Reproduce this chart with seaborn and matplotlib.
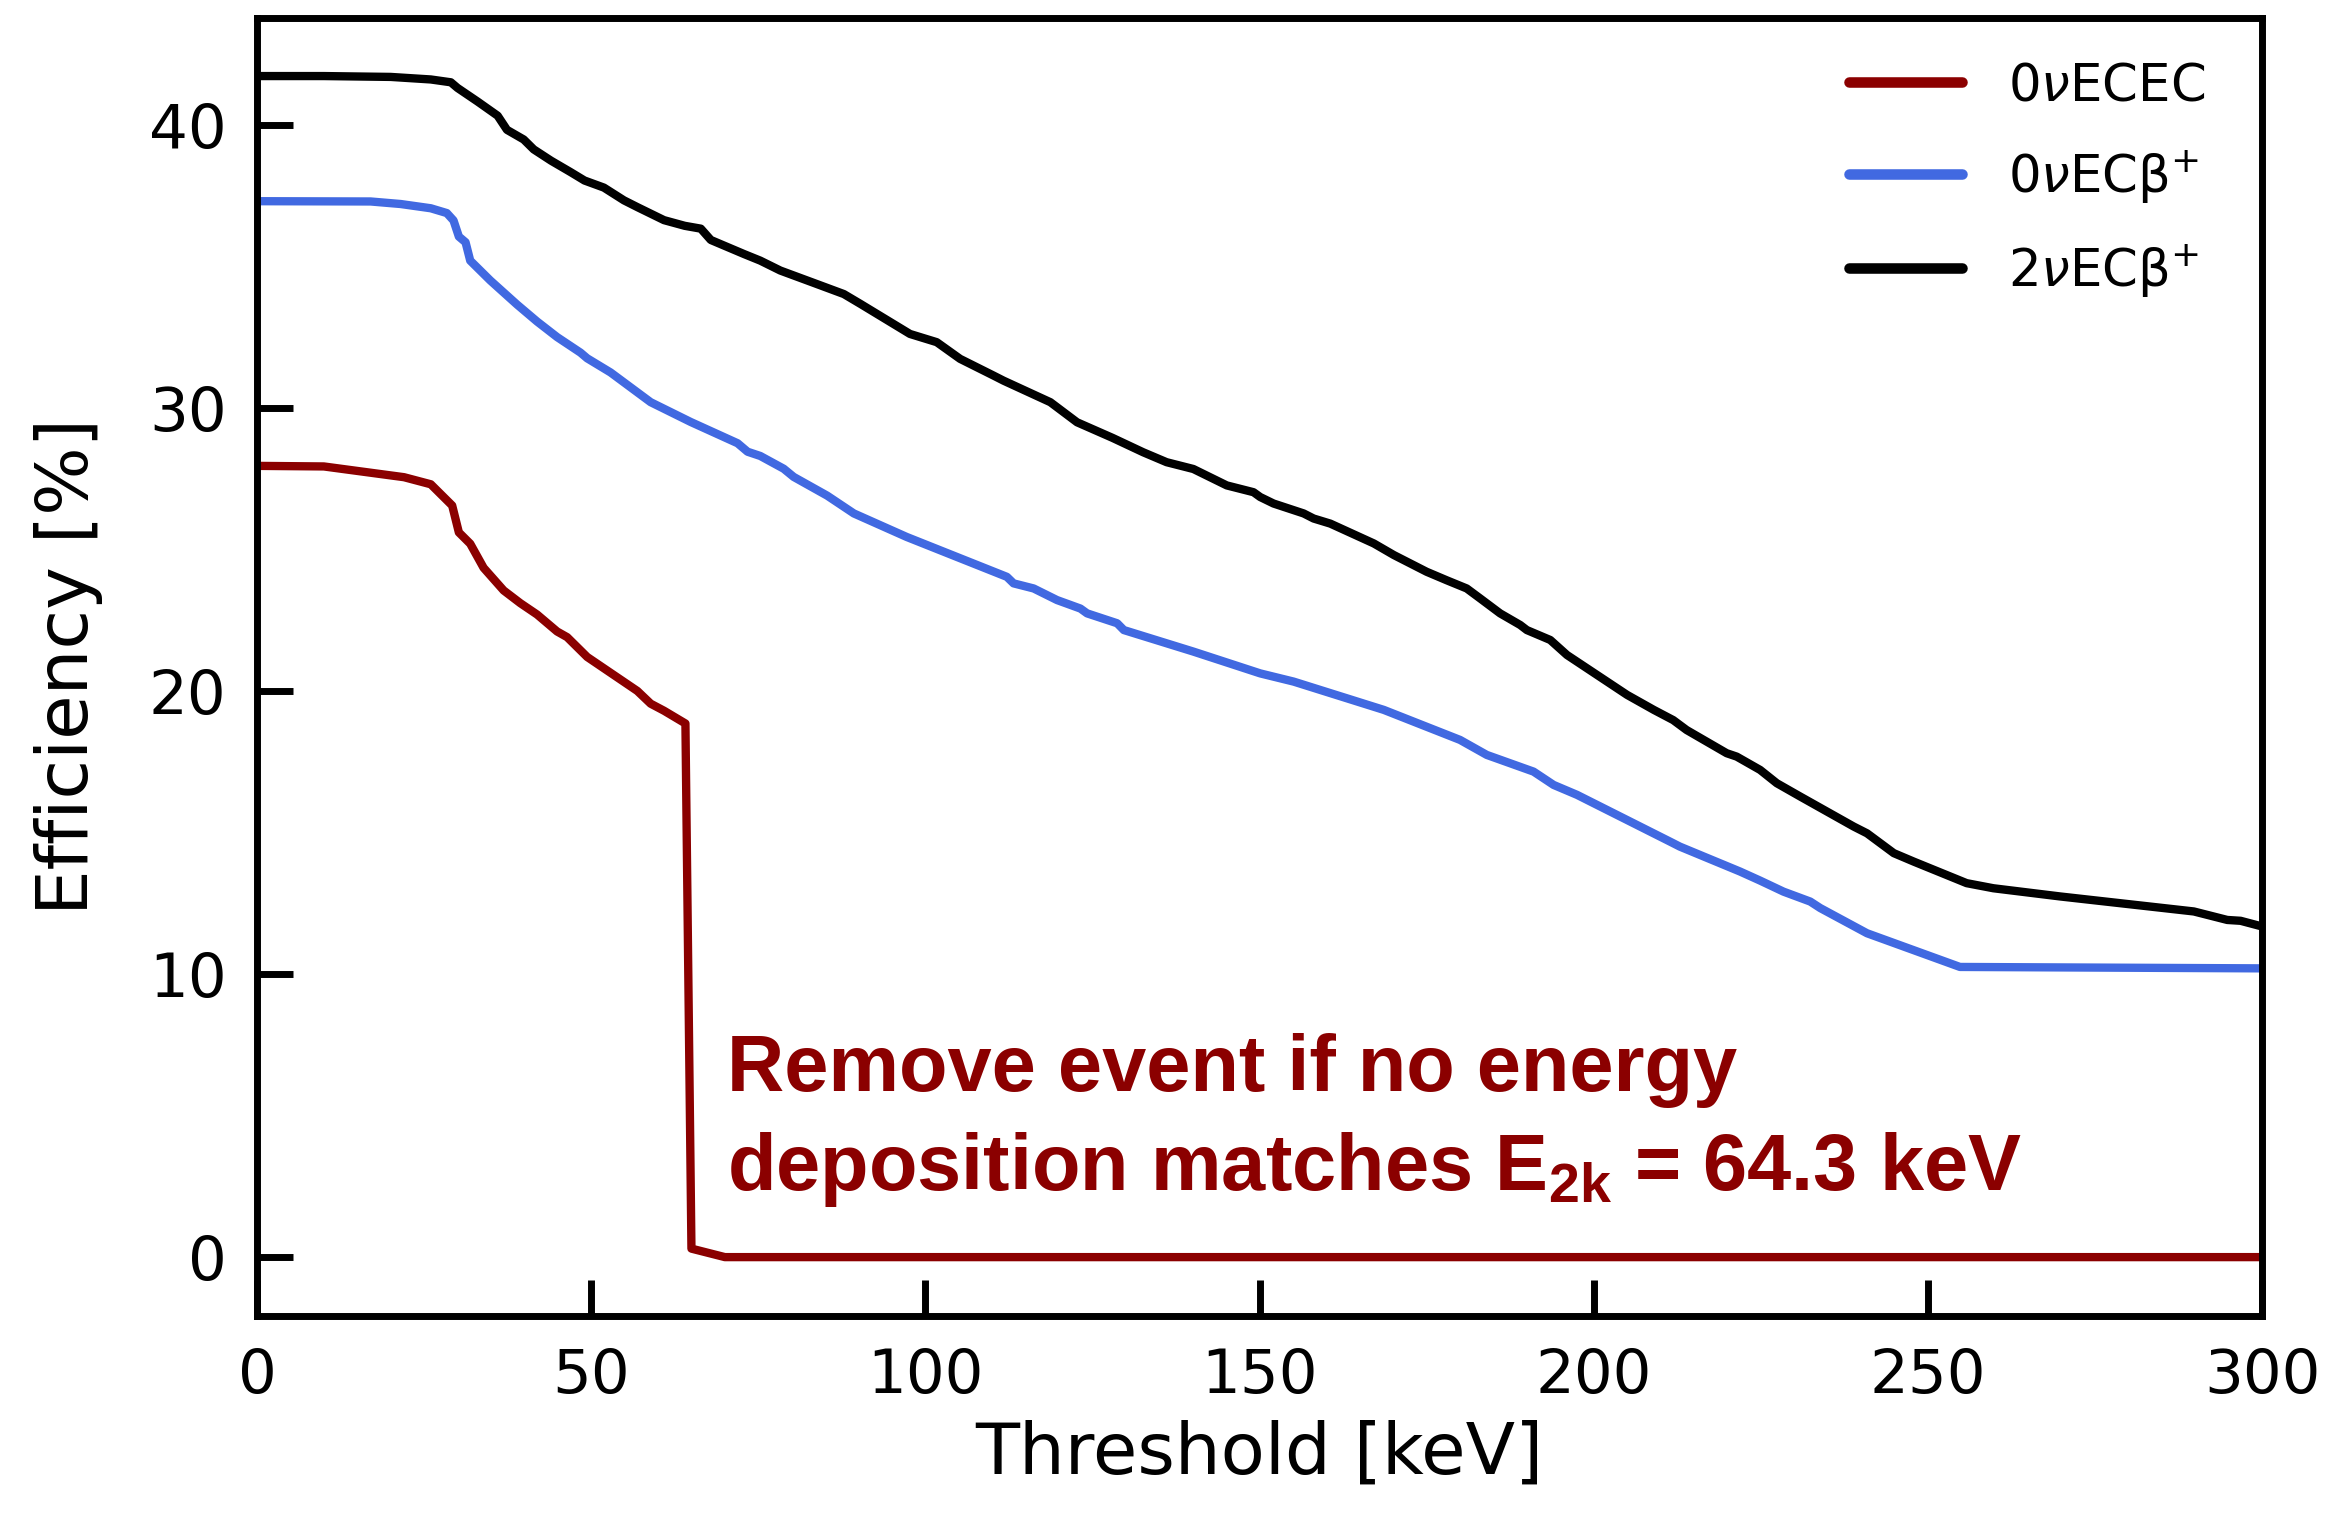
import matplotlib
matplotlib.use("Agg")
import matplotlib.pyplot as plt
import seaborn as sns
import pandas as pd

# ---------------- data ----------------
series_names = [r"0$\nu$ECEC", r"0$\nu$ECβ$^{+}$", r"2$\nu$ECβ$^{+}$"]
series_colors = ["#8B0000", "#4169E1", "#000000"]

x_0nu_ecec = [0, 10, 22, 26, 29.2, 30.2, 31.9, 33.9, 36.9, 39.4, 41.9, 44.9, 46.4,
              49.4, 56.9, 58.9, 60.9, 64.1, 65.0, 70, 300]
y_0nu_ecec = [27.95, 27.93, 27.55, 27.3, 26.55, 25.6, 25.2, 24.35, 23.55, 23.1, 22.7,
              22.1, 21.9, 21.2, 20.0, 19.55, 19.3, 18.85, 0.3, 0.0, 0.0]

x_0nu_ecbp = [0, 17, 21.5, 26, 28.4, 29.4, 30.2, 31.2, 31.9, 34.9, 38.9, 41.9, 44.9,
              48.4, 49.4, 52.9, 58.9, 64.9, 71.9, 73.4, 75.3, 78.8, 80.3, 85.3, 89.3,
              97.2, 102.2, 112.2, 113.2, 116.2, 119.7, 123.2, 124.2, 128.7, 129.7,
              140.1, 150.1, 155.1, 168.6, 180.0, 184.0, 191.0, 194.0, 197.5, 205.0,
              211.4, 212.9, 221.9, 224.9, 228.4, 232.4, 233.9, 240.9, 254.8, 300]
y_0nu_ecbp = [37.3, 37.29, 37.2, 37.05, 36.88, 36.62, 36.05, 35.85, 35.2, 34.5, 33.65,
              33.05, 32.5, 31.95, 31.75, 31.25, 30.2, 29.5, 28.75, 28.45, 28.3, 27.85,
              27.56, 26.9, 26.27, 25.44, 24.97, 24.03, 23.8, 23.62, 23.21, 22.91, 22.74,
              22.39, 22.15, 21.39, 20.62, 20.33, 19.33, 18.27, 17.74, 17.15, 16.68,
              16.33, 15.44, 14.68, 14.5, 13.62, 13.3, 12.91, 12.56, 12.33, 11.44, 10.25,
              10.2]

x_2nu_ecbp = [0, 10, 20, 26, 29, 30, 33, 36, 37.4, 39.9, 41.4, 44, 46.9, 49, 51.9,
              54.9, 57, 60.9, 64, 66.4, 67.9, 72.9, 75.3, 78.3, 83, 87.8, 90.3, 94,
              97.7, 101.7, 105.2, 110.2, 111.7, 118.7, 122.7, 128, 132.6, 136.1, 140.1,
              145.1, 149.1, 150.1, 152.1, 156.6, 158.1, 160.6, 167.1, 170.1, 175.0,
              178.0, 181.0, 183.0, 186.0, 189.0, 190.0, 193.5, 196.0, 202.0, 205.0,
              209.0, 211.9, 213.9, 219.9, 221.4, 224.9, 227.4, 230.9, 238.9, 240.9,
              244.9, 247.9, 255.8, 259.8, 269.8, 289.8, 294.8, 296.8, 300]
y_2nu_ecbp = [41.72, 41.72, 41.69, 41.6, 41.5, 41.3, 40.82, 40.32, 39.82, 39.48, 39.13,
              38.73, 38.33, 38.03, 37.78, 37.33, 37.08, 36.63, 36.43, 36.33, 35.93,
              35.43, 35.2, 34.85, 34.44, 34.02, 33.67, 33.14, 32.61, 32.32, 31.73,
              31.14, 30.96, 30.2, 29.49, 28.94, 28.43, 28.08, 27.84, 27.26, 27.02,
              26.85, 26.62, 26.27, 26.09, 25.91, 25.21, 24.8, 24.21, 23.91, 23.62,
              23.27, 22.74, 22.33, 22.15, 21.8, 21.27, 20.33, 19.86, 19.33, 18.97,
              18.62, 17.8, 17.68, 17.21, 16.74, 16.27, 15.21, 14.97, 14.27, 13.97,
              13.21, 13.03, 12.74, 12.21, 11.91, 11.88, 11.68]

x_ticks = [0, 50, 100, 150, 200, 250, 300]
y_ticks = [0, 10, 20, 30, 40]

annotation_text = ("Remove event if no energy\n"
                   r"deposition matches $\mathbf{E_{2k}}$ = 64.3 keV")

# ---------------- style ----------------
sns.set_style("white")
plt.rcParams["font.family"] = ["DejaVu Sans"]
plt.rcParams["text.color"] = "black"
plt.rcParams["axes.labelcolor"] = "black"
plt.rcParams["mathtext.fontset"] = "custom"
plt.rcParams["mathtext.rm"] = "DejaVu Sans"
plt.rcParams["mathtext.it"] = "DejaVu Sans:italic"
plt.rcParams["mathtext.bf"] = "Liberation Sans:bold"

frames = []
for name, xs, ys in [(series_names[0], x_0nu_ecec, y_0nu_ecec),
                     (series_names[1], x_0nu_ecbp, y_0nu_ecbp),
                     (series_names[2], x_2nu_ecbp, y_2nu_ecbp)]:
    frames.append(pd.DataFrame({"Threshold": xs, "Efficiency": ys, "Process": name}))
df = pd.concat(frames, ignore_index=True)

fig = plt.figure(figsize=(11.63, 7.585), dpi=200)
ax = fig.add_axes([0.1105, 0.1325, 0.862, 0.8558])

sns.lineplot(data=df, x="Threshold", y="Efficiency", hue="Process",
             hue_order=series_names, palette=dict(zip(series_names, series_colors)),
             linewidth=3.0, sort=False, estimator=None, ax=ax)

ax.set_xlim(0, 300)
ax.set_ylim(-2.08, 43.78)
ax.set_xticks(x_ticks)
ax.set_yticks(y_ticks)
ax.tick_params(axis="both", direction="in", length=13, width=2.5, labelsize=22,
               pad=11, bottom=True, left=True, top=False, right=False,
               colors="black")
for sp in ax.spines.values():
    sp.set_linewidth(2.5)
    sp.set_color("black")
    sp.set_visible(True)

ax.set_xlabel("Threshold [keV]", fontsize=26, labelpad=5, color="black")
ax.set_ylabel("Efficiency [%]", fontsize=26, labelpad=16.5, color="black")

leg = ax.legend(loc="upper right", bbox_to_anchor=(0.9935, 1.0), frameon=False,
                fontsize=18.5, handlelength=2.2, labelspacing=0.72,
                borderaxespad=0.45, handletextpad=0.9)
for line in leg.get_lines():
    line.set_linewidth(3.8)

ax.text(70.3, 2.36, annotation_text, color="#8B0000", fontsize=28.6,
        fontfamily="Liberation Sans", fontweight="bold", ha="left", va="baseline",
        linespacing=1.38)

fig.savefig("out.png", dpi=200)
